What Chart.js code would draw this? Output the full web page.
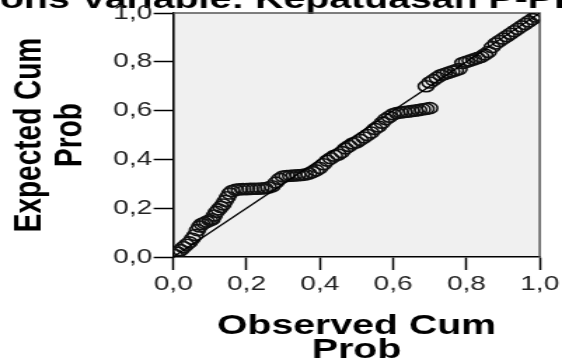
<!DOCTYPE html>
<html>
<head>
<meta charset="utf-8">
<script src="https://cdn.jsdelivr.net/npm/chart.js@4/dist/chart.umd.min.js"></script>
<style>
  html, body { margin: 0; padding: 0; background: #fff; overflow: hidden; }
  #wrap {
    position: relative;
    width: 401px;
    height: 362px;
    transform: scaleX(1.4015);
    transform-origin: 0 0;
  }
  canvas { position: absolute; left: 0; top: 0; }
</style>
</head>
<body>
<div id="wrap">
  <canvas id="ppChart" width="401" height="362"></canvas>
</div>
<script>
/* ===== Data ===== */
const observed = [
  0.004, 0.012, 0.020, 0.028, 0.036, 0.044, 0.052, 0.060,
  0.066, 0.072, 0.078, 0.085, 0.092, 0.100, 0.106,
  0.112, 0.118, 0.124, 0.130, 0.136, 0.142, 0.148, 0.154, 0.160,
  0.170, 0.180, 0.190, 0.200, 0.210, 0.220, 0.230, 0.240, 0.250, 0.260, 0.270,
  0.280, 0.290, 0.300,
  0.310, 0.320, 0.330, 0.340, 0.350, 0.360, 0.370, 0.380, 0.390, 0.400,
  0.410, 0.420, 0.430, 0.440, 0.450, 0.460, 0.470, 0.480, 0.490, 0.500,
  0.510, 0.520, 0.530, 0.540, 0.550, 0.560, 0.570, 0.580, 0.590, 0.600,
  0.610, 0.620, 0.630, 0.640, 0.650, 0.660, 0.670, 0.680, 0.690, 0.700,
  0.690, 0.700, 0.710, 0.720, 0.730, 0.740, 0.750, 0.760, 0.770, 0.780,
  0.790, 0.800, 0.810, 0.820, 0.830, 0.840, 0.850, 0.860,
  0.870, 0.880, 0.890, 0.900, 0.910, 0.920, 0.930, 0.940, 0.950, 0.960,
  0.970, 0.980, 0.990, 0.995
];
const expected = [
  0.008, 0.018, 0.028, 0.040, 0.050, 0.060, 0.075, 0.090,
  0.110, 0.125, 0.135, 0.140, 0.145, 0.150, 0.155,
  0.170, 0.185, 0.195, 0.205, 0.215, 0.230, 0.245, 0.260, 0.270,
  0.275, 0.277, 0.278, 0.278, 0.279, 0.280, 0.280, 0.281, 0.282, 0.285, 0.290,
  0.305, 0.320, 0.330,
  0.332, 0.333, 0.334, 0.335, 0.336, 0.338, 0.342, 0.348, 0.355, 0.365,
  0.380, 0.395, 0.405, 0.415, 0.420, 0.430, 0.445, 0.455, 0.465, 0.470,
  0.480, 0.490, 0.500, 0.510, 0.525, 0.535, 0.550, 0.565, 0.575, 0.585,
  0.590, 0.592, 0.594, 0.596, 0.598, 0.600, 0.602, 0.605, 0.607, 0.610,
  0.700, 0.715, 0.725, 0.735, 0.745, 0.750, 0.755, 0.760, 0.765, 0.770,
  0.795, 0.800, 0.805, 0.810, 0.815, 0.820, 0.830, 0.840,
  0.860, 0.875, 0.885, 0.895, 0.905, 0.915, 0.925, 0.935, 0.945, 0.955,
  0.965, 0.975, 0.985, 0.993
];
// diagonal reference line
const refX = [0, 1];
const refY = [0, 1];
const tickValues = [0, 0.2, 0.4, 0.6, 0.8, 1.0];

const chartTitle = "ons Variable: Kepatuasan P-Plot"; // cut off at the top of the picture
const xTitle = ["Observed Cum", "Prob"];
const yTitle = ["Expected Cum", "Prob"];

/* ===== Plot background + frame + cropped title ===== */
const plotFrame = {
  id: "plotFrame",
  beforeDraw(chart) {
    const { ctx, chartArea: a } = chart;
    ctx.save();
    ctx.fillStyle = "#f0f0f0";
    ctx.fillRect(a.left, a.top, a.right - a.left, a.bottom - a.top);
    // title: only its lower part shows above the plot
    ctx.fillStyle = "#000";
    ctx.font = "bold 28px 'Liberation Sans', Arial, sans-serif";
    ctx.textBaseline = "alphabetic";
    ctx.textAlign = "left";
    ctx.fillText(chartTitle, 0, 8);
    ctx.restore();
  },
  beforeDatasetsDraw(chart) {
    const { ctx, chartArea: a } = chart;
    ctx.save();
    ctx.strokeStyle = "#555";
    ctx.lineWidth = 1.5;
    ctx.beginPath();
    ctx.moveTo(a.left, a.top);
    ctx.lineTo(a.right, a.top);
    ctx.lineTo(a.right, a.bottom);
    ctx.stroke();
    ctx.restore();
  }
};

const commaFmt = v => v.toFixed(1).replace(".", ",");

/* ===== Chart ===== */
const ctx = document.getElementById("ppChart").getContext("2d");
new Chart(ctx, {
  type: "scatter",
  data: {
    datasets: [
      {
        type: "line",
        data: refX.map((x, i) => ({ x, y: refY[i] })),
        borderColor: "#000",
        borderWidth: 1.3,
        pointRadius: 0,
        fill: false
      },
      {
        data: observed.map((x, i) => ({ x, y: expected[i] })),
        pointRadius: 5.5,
        pointBorderColor: "#111",
        pointBackgroundColor: "rgba(0,0,0,0)",
        pointBorderWidth: 1.6
      }
    ]
  },
  options: {
    responsive: false,
    animation: false,
    events: [],
    layout: { padding: { top: 13, right: 14, left: 0, bottom: 0 } },
    plugins: {
      legend: { display: false },
      tooltip: { enabled: false }
    },
    scales: {
      x: {
        type: "linear",
        min: 0,
        max: 1,
        afterBuildTicks: s => { s.ticks = tickValues.map(v => ({ value: v })); },
        afterFit: s => { s.height = 105; },
        ticks: {
          callback: commaFmt,
          color: "#222",
          padding: 2,
          maxRotation: 0,
          font: { family: "'Liberation Sans', Arial, sans-serif", size: 20 }
        },
        grid: { drawOnChartArea: false, tickLength: 13, tickColor: "#000", tickWidth: 1.5 },
        border: { color: "#000", width: 1.6 },
        title: {
          display: true,
          text: xTitle,
          color: "#000",
          padding: { top: 0, bottom: 0 },
          font: { family: "'Liberation Sans', Arial, sans-serif", size: 28, weight: "bold", lineHeight: 0.84 }
        }
      },
      y: {
        type: "linear",
        min: 0,
        max: 1,
        afterBuildTicks: s => { s.ticks = tickValues.map(v => ({ value: v })); },
        afterFit: s => { s.width = 123.6; },
        ticks: {
          callback: commaFmt,
          color: "#222",
          padding: 1,
          font: { family: "'Liberation Sans', Arial, sans-serif", size: 20 }
        },
        grid: { drawOnChartArea: false, tickLength: 14, tickColor: "#000", tickWidth: 1.5 },
        border: { color: "#000", width: 1.6 },
        title: {
          display: true,
          text: yTitle,
          color: "#000",
          padding: { top: 7, bottom: 0 },
          font: { family: "'Liberation Sans', Arial, sans-serif", size: 28, weight: "bold", lineHeight: 1.02 }
        }
      }
    }
  },
  plugins: [plotFrame]
});
</script>
</body>
</html>
